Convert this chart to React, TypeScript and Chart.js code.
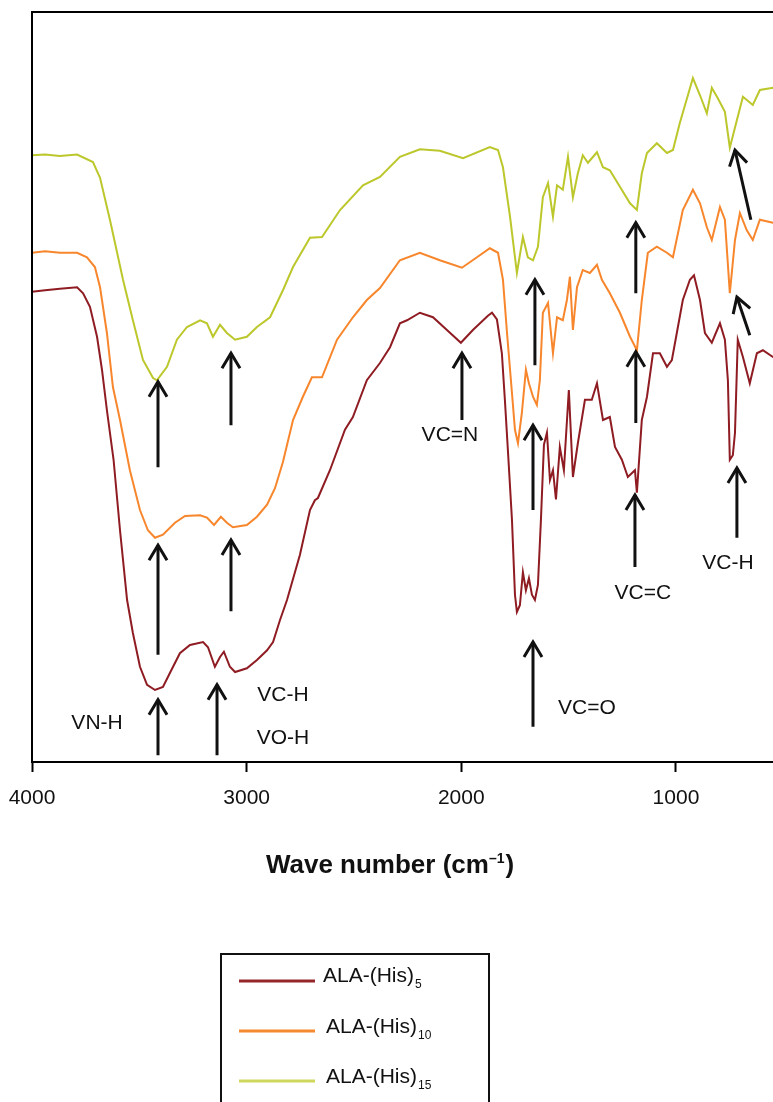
import React, { useEffect, useRef } from "react";
import { Chart, registerables } from "chart.js";

Chart.register(...registerables);

const FONT = '"Liberation Sans", Arial, Helvetica, sans-serif';
const CANVAS_W = 800;
const CANVAS_H = 1102;

// x axis (wave number, cm-1), drawn high -> low
const xTicks = [4000, 3000, 2000, 1000];
const xMin = 478;
const xMax = 4000;

// ALA-(His)5 spectrum
const his5Wn = [4000, 3939, 3870, 3790, 3762, 3730, 3697, 3674, 3651, 3620, 3590, 3557, 3530, 3497, 3464, 3427, 3390, 3357, 3311, 3264, 3203, 3180, 3148, 3124, 3106, 3078, 3054, 2999, 2952, 2905, 2877, 2845, 2812, 2752, 2705, 2682, 2668, 2612, 2542, 2505, 2440, 2379, 2332, 2286, 2253, 2193, 2132, 2067, 2002, 1946, 1876, 1857, 1834, 1811, 1797, 1783, 1764, 1750, 1741, 1727, 1713, 1699, 1685, 1671, 1657, 1643, 1629, 1615, 1601, 1587, 1573, 1559, 1541, 1522, 1499, 1480, 1457, 1424, 1392, 1368, 1340, 1308, 1284, 1252, 1224, 1191, 1182, 1159, 1135, 1107, 1075, 1042, 1019, 996, 968, 935, 916, 888, 865, 833, 795, 772, 758, 749, 735, 725, 712, 688, 656, 623, 595, 548, 480];
const his5T = [62.7, 62.9, 63.1, 63.3, 62.5, 60.7, 56.7, 52.3, 46.9, 40.3, 30.9, 21.6, 17.2, 12.7, 10.3, 9.6, 10.0, 11.9, 14.5, 15.6, 16.0, 15.3, 12.7, 14.0, 14.7, 12.7, 12.0, 12.5, 13.6, 14.9, 16.0, 18.9, 21.6, 27.6, 33.6, 34.9, 35.2, 38.9, 44.3, 46.0, 50.9, 53.2, 55.3, 58.5, 58.9, 59.9, 59.3, 57.6, 55.9, 57.6, 59.5, 59.9, 59.0, 54.5, 48.3, 41.6, 32.3, 22.3, 20.0, 20.9, 25.3, 22.9, 24.5, 22.3, 21.6, 23.6, 32.3, 42.3, 43.9, 37.6, 38.9, 35.0, 42.0, 38.9, 49.6, 38.0, 42.5, 48.3, 48.3, 50.5, 45.6, 46.0, 42.0, 40.3, 38.0, 38.9, 35.9, 45.6, 48.7, 54.5, 54.5, 52.7, 53.6, 57.2, 61.6, 64.3, 64.9, 61.6, 57.2, 55.9, 58.5, 56.3, 50.9, 40.3, 40.9, 43.9, 56.3, 54.0, 50.5, 54.5, 54.9, 54.0, 54.3];

// ALA-(His)10 spectrum
const his10Wn = [4000, 3939, 3870, 3790, 3744, 3707, 3683, 3651, 3623, 3590, 3544, 3497, 3460, 3427, 3390, 3334, 3287, 3217, 3185, 3152, 3120, 3092, 3064, 2999, 2952, 2905, 2868, 2831, 2784, 2738, 2696, 2649, 2579, 2505, 2440, 2379, 2286, 2193, 2100, 1997, 1927, 1867, 1829, 1806, 1787, 1764, 1750, 1736, 1718, 1699, 1685, 1666, 1648, 1634, 1620, 1596, 1573, 1554, 1527, 1508, 1494, 1480, 1461, 1434, 1401, 1368, 1345, 1308, 1261, 1214, 1182, 1159, 1131, 1089, 1042, 1014, 968, 921, 888, 856, 833, 795, 772, 749, 725, 702, 670, 642, 609, 548, 480];
const his10T = [67.9, 68.1, 67.9, 67.9, 67.3, 66.0, 63.3, 57.2, 50.0, 45.6, 38.9, 33.6, 30.9, 29.9, 30.3, 31.9, 32.8, 32.9, 32.6, 31.6, 32.7, 31.9, 31.3, 31.6, 32.7, 34.3, 36.5, 40.0, 45.6, 48.7, 51.3, 51.3, 56.3, 59.3, 61.6, 63.2, 66.9, 67.9, 66.9, 65.9, 67.3, 68.5, 67.9, 64.3, 57.2, 49.2, 44.3, 42.5, 46.5, 52.3, 50.5, 48.7, 47.6, 50.9, 59.9, 61.2, 54.5, 59.3, 58.9, 61.6, 64.7, 57.6, 63.3, 65.6, 65.2, 66.3, 64.3, 62.5, 59.9, 56.7, 54.9, 61.6, 67.9, 68.7, 67.9, 67.3, 73.6, 76.3, 74.5, 71.3, 69.6, 74.0, 72.3, 62.5, 69.6, 73.2, 70.9, 69.6, 72.3, 71.9, 71.5];

// ALA-(His)15 spectrum
const his15Wn = [4000, 3939, 3870, 3790, 3716, 3683, 3637, 3576, 3530, 3483, 3436, 3418, 3371, 3325, 3278, 3217, 3185, 3157, 3124, 3092, 3054, 2999, 2952, 2891, 2831, 2784, 2705, 2649, 2565, 2458, 2379, 2286, 2193, 2100, 1992, 1867, 1829, 1806, 1773, 1741, 1713, 1690, 1666, 1643, 1620, 1596, 1573, 1554, 1527, 1503, 1480, 1457, 1434, 1410, 1368, 1340, 1308, 1261, 1214, 1182, 1159, 1135, 1089, 1042, 1014, 982, 921, 888, 856, 833, 805, 772, 749, 716, 688, 642, 609, 548, 480];
const his15T = [80.9, 81.0, 80.8, 81.0, 80.0, 77.9, 72.3, 64.3, 58.9, 53.6, 51.2, 50.9, 52.7, 56.3, 58.0, 58.9, 58.5, 56.7, 58.3, 57.2, 56.3, 56.7, 58.0, 59.3, 62.9, 66.0, 69.9, 70.0, 73.6, 76.9, 78.0, 80.7, 81.7, 81.5, 80.5, 82.0, 81.6, 79.3, 72.7, 65.2, 70.0, 67.3, 66.9, 68.7, 75.3, 77.2, 72.7, 76.9, 76.3, 80.7, 75.3, 78.5, 80.9, 79.9, 81.3, 79.3, 78.9, 76.7, 74.5, 73.6, 78.5, 81.2, 82.5, 81.2, 81.6, 85.2, 91.2, 88.9, 86.5, 89.9, 88.5, 86.7, 81.9, 85.6, 88.7, 87.6, 89.6, 89.9, 89.5];

// series styling and legend entries
const seriesBase = ["ALA-(His)", "ALA-(His)", "ALA-(His)"];
const seriesSub = ["5", "10", "15"];
const seriesColors = ["#8e1c22", "#f7862c", "#bcc72c"];
const legendColors = ["#95262a", "#f68a30", "#cfd85c"];

// band arrows: tail (wn, T) -> tip (wn, T)
const arrowTailWn = [3413, 3073, 3413, 3073, 3413, 3138, 1997, 1657, 1666, 1666, 1187, 1187, 1191, 716, 651, 656];
const arrowTailT = [39.3, 44.9, 14.3, 20.1, 0.9, 0.9, 45.6, 52.9, 33.6, 4.7, 62.5, 45.2, 26.0, 29.9, 72.3, 56.9];
const arrowTipWn = [3413, 3073, 3413, 3073, 3413, 3138, 1997, 1657, 1666, 1666, 1187, 1187, 1191, 716, 725, 716];
const arrowTipT = [50.7, 54.5, 28.9, 29.6, 8.3, 10.3, 54.5, 64.3, 44.9, 16.0, 71.9, 54.7, 35.6, 39.2, 81.6, 62.0];

// band assignment labels
const bandText = ["VN-H", "VC-H", "VO-H", "VC=N", "VC=O", "VC=C", "VC-H"];
const bandWn = [3697, 2831, 2831, 2053, 1415, 1154, 758];
const bandT = [5.2, 8.9, 3.2, 43.6, 7.2, 22.5, 26.5];

const toPoints = (wn: number[], t: number[]) => wn.map((x, i) => ({ x, y: t[i] }));

const decorations = {
  id: "decorations",
  afterDraw(chart: any) {
    const { ctx, chartArea, scales } = chart;
    const xs = scales.x;
    const ys = scales.y;
    ctx.save();

    // plot frame (left and top edges)
    ctx.strokeStyle = "#000";
    ctx.lineWidth = 2;
    ctx.beginPath();
    ctx.moveTo(chartArea.left, chartArea.bottom);
    ctx.lineTo(chartArea.left, chartArea.top);
    ctx.lineTo(chartArea.right + 20, chartArea.top);
    ctx.stroke();

    // arrows
    ctx.strokeStyle = "#111";
    ctx.lineWidth = 3;
    ctx.lineCap = "butt";
    ctx.lineJoin = "miter";
    const headLen = 17.5;
    const headAng = 0.54;
    for (let i = 0; i < arrowTipWn.length; i++) {
      const x1 = xs.getPixelForValue(arrowTailWn[i]);
      const y1 = ys.getPixelForValue(arrowTailT[i]);
      const x2 = xs.getPixelForValue(arrowTipWn[i]);
      const y2 = ys.getPixelForValue(arrowTipT[i]);
      const a = Math.atan2(y2 - y1, x2 - x1);
      ctx.beginPath();
      ctx.moveTo(x1, y1);
      ctx.lineTo(x2, y2);
      ctx.stroke();
      ctx.beginPath();
      ctx.moveTo(x2 - headLen * Math.cos(a - headAng), y2 - headLen * Math.sin(a - headAng));
      ctx.lineTo(x2, y2);
      ctx.lineTo(x2 - headLen * Math.cos(a + headAng), y2 - headLen * Math.sin(a + headAng));
      ctx.stroke();
    }

    // band labels
    ctx.fillStyle = "#111";
    ctx.font = `21px ${FONT}`;
    ctx.textAlign = "center";
    ctx.textBaseline = "middle";
    for (let i = 0; i < bandText.length; i++) {
      ctx.fillText(bandText[i], xs.getPixelForValue(bandWn[i]), ys.getPixelForValue(bandT[i]));
    }

    // axis title with superscript
    ctx.textAlign = "left";
    ctx.textBaseline = "alphabetic";
    const mainFont = `bold 26px ${FONT}`;
    const supFont = `bold 14px ${FONT}`;
    const t1 = "Wave number (cm";
    const t2 = "\u20131";
    const t3 = ")";
    ctx.font = mainFont;
    const w1 = ctx.measureText(t1).width;
    const w3 = ctx.measureText(t3).width;
    ctx.font = supFont;
    const w2 = ctx.measureText(t2).width;
    const total = w1 + w2 + 1 + w3;
    let tx = 390 - total / 2;
    const ty = 873;
    ctx.font = mainFont;
    ctx.fillText(t1, tx, ty);
    tx += w1;
    ctx.font = supFont;
    ctx.fillText(t2, tx, ty - 10);
    tx += w2 + 1;
    ctx.font = mainFont;
    ctx.fillText(t3, tx, ty);

    // legend box
    ctx.strokeStyle = "#111";
    ctx.lineWidth = 2;
    ctx.beginPath();
    ctx.moveTo(221, 1110);
    ctx.lineTo(221, 954);
    ctx.lineTo(489, 954);
    ctx.lineTo(489, 1110);
    ctx.stroke();

    const rowLineY = [981, 1031, 1081];
    const rowTextX = [323, 326, 326];
    const rowBase = [982, 1033, 1083];
    for (let i = 0; i < seriesBase.length; i++) {
      ctx.strokeStyle = legendColors[i];
      ctx.lineWidth = 3;
      ctx.beginPath();
      ctx.moveTo(239, rowLineY[i]);
      ctx.lineTo(315, rowLineY[i]);
      ctx.stroke();
      ctx.fillStyle = "#111";
      ctx.font = `21px ${FONT}`;
      ctx.fillText(seriesBase[i], rowTextX[i], rowBase[i]);
      const bw = ctx.measureText(seriesBase[i]).width;
      ctx.font = `12px ${FONT}`;
      ctx.fillText(seriesSub[i], rowTextX[i] + bw + 1, rowBase[i] + 6);
    }

    ctx.restore();
  },
};

export default function App() {
  const canvasRef = useRef<HTMLCanvasElement | null>(null);

  useEffect(() => {
    const canvas = canvasRef.current;
    if (!canvas) return;
    const chart = new Chart(canvas, {
      type: "line",
      data: {
        datasets: [
          {
            label: seriesBase[0] + seriesSub[0],
            data: toPoints(his5Wn, his5T),
            borderColor: seriesColors[0],
            borderWidth: 2,
            pointRadius: 0,
            tension: 0,
          },
          {
            label: seriesBase[1] + seriesSub[1],
            data: toPoints(his10Wn, his10T),
            borderColor: seriesColors[1],
            borderWidth: 2,
            pointRadius: 0,
            tension: 0,
          },
          {
            label: seriesBase[2] + seriesSub[2],
            data: toPoints(his15Wn, his15T),
            borderColor: seriesColors[2],
            borderWidth: 2,
            pointRadius: 0,
            tension: 0,
          },
        ],
      },
      options: {
        responsive: false,
        animation: false,
        devicePixelRatio: 1,
        layout: { padding: { left: 32, top: 12, right: CANVAS_W - 788, bottom: CANVAS_H - 762 - 50 } },
        plugins: { legend: { display: false }, tooltip: { enabled: false } },
        scales: {
          x: {
            type: "linear",
            reverse: true,
            min: xMin,
            max: xMax,
            afterBuildTicks: (scale: any) => {
              scale.ticks = xTicks.map((v) => ({ value: v }));
            },
            afterFit: (scale: any) => {
              scale.height = 50;
              scale.paddingLeft = 0;
              scale.paddingRight = 0;
            },
            grid: {
              display: true,
              drawOnChartArea: false,
              drawTicks: true,
              tickLength: 10,
              tickWidth: 2,
              tickColor: "#000",
              color: "#000",
            },
            border: { display: true, color: "#000", width: 2 },
            ticks: {
              color: "#111",
              font: { family: FONT, size: 21 },
              padding: 14,
              maxRotation: 0,
              autoSkip: false,
              callback: (v: any) => String(v),
            },
          },
          y: { display: false, min: 0, max: 100 },
        },
      },
      plugins: [decorations],
    } as any);
    return () => chart.destroy();
  }, []);

  return (
    <div
      style={{
        position: "absolute",
        left: 0,
        top: 0,
        width: 773,
        height: 1102,
        overflow: "hidden",
        background: "#fff",
      }}
    >
      <canvas
        ref={canvasRef}
        width={CANVAS_W}
        height={CANVAS_H}
        style={{ display: "block", width: CANVAS_W, height: CANVAS_H }}
      />
    </div>
  );
}
